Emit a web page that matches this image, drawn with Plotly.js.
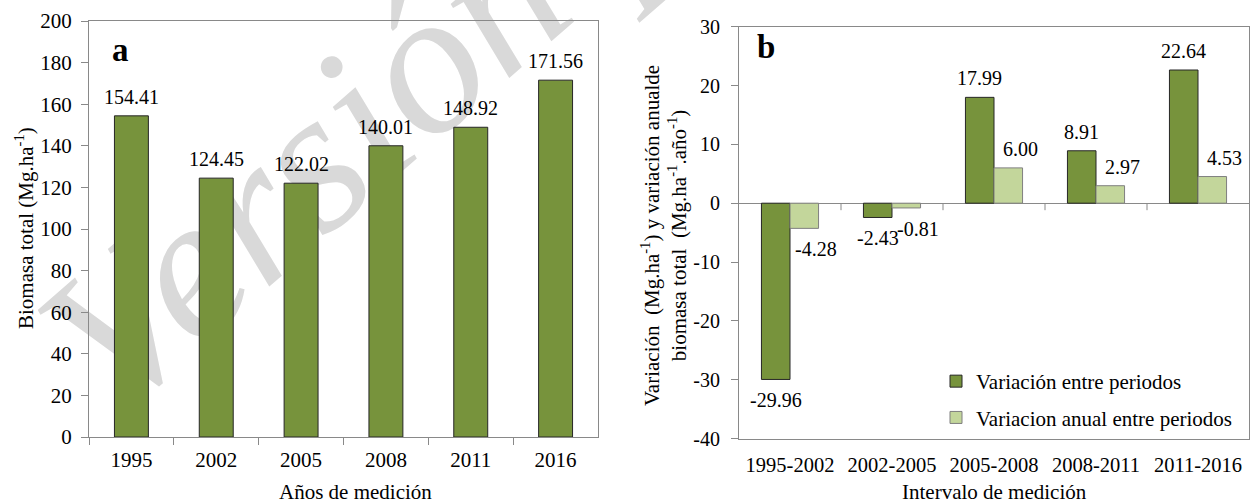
<!DOCTYPE html>
<html>
<head>
<meta charset="utf-8">
<script src="https://cdn.plot.ly/plotly-3.0.1.min.js"></script>
<style>
  html, body { margin: 0; padding: 0; background: #ffffff; }
  #wrap { position: relative; width: 1255px; height: 503px; overflow: hidden; }
  #wm { position: absolute; left: 0; top: 0; }
  #chart { position: absolute; left: 0; top: 0; width: 1255px; height: 503px; }
</style>
</head>
<body>
<div id="wrap">
  <svg id="wm" width="1255" height="503">
    <text x="117" y="419" font-family="Liberation Serif" font-style="italic" font-size="205" fill="#d9d9d9" transform="rotate(-41 117 419)">Versión preliminar</text>
  </svg>
  <div id="chart"></div>
</div>
<script>
// ---- data ----
const years = ['1995', '2002', '2005', '2008', '2011', '2016'];
const biomasaTotal = [154.41, 124.45, 122.02, 140.01, 148.92, 171.56];
const intervals = ['1995-2002', '2002-2005', '2005-2008', '2008-2011', '2011-2016'];
const variacionEntre = [-29.96, -2.43, 17.99, 8.91, 22.64];
const variacionAnual = [-4.28, -0.81, 6.00, 2.97, 4.53];
const seriesNames = ['Variación entre periodos', 'Variacion anual entre periodos'];
const yTicksA = [0, 20, 40, 60, 80, 100, 120, 140, 160, 180, 200];
const yTicksB = [-40, -30, -20, -10, 0, 10, 20, 30];

// ---- style ----
const FONT = 'Liberation Serif';
const AXC = '#898989';
const DARK = '#77933C';
const LIGHT = '#C3D69B';
const W = 1255, H = 503;
const px = v => v / W;
const py = v => (H - v) / H;
const BW = 0.28; // bar width of panel b (fraction of category)

const traces = [
  {
    type: 'bar', x: years, y: biomasaTotal, xaxis: 'x', yaxis: 'y',
    width: 0.4, showlegend: false,
    marker: { color: DARK, line: { color: '#262626', width: 1 } },
    hoverinfo: 'x+y'
  },
  {
    type: 'bar', x: intervals, y: variacionEntre, xaxis: 'x2', yaxis: 'y2',
    width: BW, offset: -BW, name: seriesNames[0], legendgroup: 'g1',
    marker: { color: DARK, line: { color: '#262626', width: 1 } }
  },
  {
    type: 'bar', x: intervals, y: variacionAnual, xaxis: 'x2', yaxis: 'y2',
    width: BW, offset: 0, name: seriesNames[1], legendgroup: 'g2',
    marker: { color: LIGHT, line: { color: '#7f7f7f', width: 1 } }
  }
];

// data labels (x given as category index)
const ann = [];
const labFont = { family: FONT, size: 20, color: '#000' };
function lab(ys, xref, yref, dx, xshift) {
  ys.forEach((v, i) => {
    ann.push({
      x: i + dx, y: v, xref: xref, yref: yref, text: v.toFixed(2), showarrow: false,
      yanchor: 'middle', xanchor: 'center', yshift: v >= 0 ? 19 : -21, xshift: xshift,
      font: labFont
    });
  });
}
lab(biomasaTotal, 'x', 'y', 0, 0);
lab(variacionEntre, 'x2', 'y2', -BW / 2, 0);
lab(variacionAnual, 'x2', 'y2', BW / 2, 12);

// panel letters
const letterFont = { family: FONT, size: 33, color: '#000' };
ann.push({ x: px(120), y: py(50), xref: 'paper', yref: 'paper', xanchor: 'center', yanchor: 'middle',
  text: '<b>a</b>', showarrow: false, font: letterFont });
ann.push({ x: px(766), y: py(47), xref: 'paper', yref: 'paper', xanchor: 'center', yanchor: 'middle',
  text: '<b>b</b>', showarrow: false, font: letterFont });

// axis titles
const titleFont = { family: FONT, size: 21, color: '#000' };
ann.push({ x: px(24), y: py(228), xref: 'paper', yref: 'paper', textangle: -90, showarrow: false,
  xanchor: 'center', yanchor: 'middle',
  text: 'Biomasa total (Mg.ha<sup>-1</sup>)', font: titleFont });
ann.push({ x: px(664), y: py(235), xref: 'paper', yref: 'paper', textangle: -90, showarrow: false,
  xanchor: 'center', yanchor: 'middle',
  text: 'Variación  (Mg.ha<sup>-1</sup>) y variación anualde<br>biomasa total  (Mg.ha<sup>-1</sup>.año<sup>-1</sup>)',
  font: titleFont });
ann.push({ x: px(355), y: py(492), xref: 'paper', yref: 'paper', showarrow: false,
  xanchor: 'center', yanchor: 'middle', text: 'Años de medición', font: titleFont });
ann.push({ x: px(994), y: py(492), xref: 'paper', yref: 'paper', showarrow: false,
  xanchor: 'center', yanchor: 'middle', text: 'Intervalo de medición', font: titleFont });

// tick marks on the zero line of panel b, at category boundaries
const shapes = intervals.slice(1).map((_, i) => ({
  type: 'line', xref: 'x2', yref: 'y2', x0: i + 0.5, x1: i + 0.5,
  ysizemode: 'pixel', yanchor: 0, y0: 0, y1: -7,
  line: { color: AXC, width: 1 }
}));

const layout = {
  width: W, height: H,
  margin: { l: 0, r: 0, t: 0, b: 0 },
  paper_bgcolor: 'rgba(0,0,0,0)', plot_bgcolor: 'rgba(0,0,0,0)',
  font: { family: FONT, color: '#000' },
  barmode: 'overlay',
  showlegend: true,
  legend: {
    x: px(936), y: py(361), xanchor: 'left', yanchor: 'top',
    bgcolor: 'rgba(0,0,0,0)', font: { family: FONT, size: 21, color: '#000' },
    tracegroupgap: 6, itemwidth: 30
  },
  xaxis: {
    domain: [px(89), px(598)], anchor: 'y', type: 'category',
    range: [-0.5, years.length - 0.5],
    showline: true, linecolor: AXC, linewidth: 1, mirror: true,
    ticks: 'outside', tickson: 'boundaries', ticklen: 7, tickcolor: AXC,
    tickfont: { family: FONT, size: 21, color: '#000' }, tickangle: 0,
    ticklabelstandoff: 4, showgrid: false
  },
  yaxis: {
    domain: [py(437), py(21)], anchor: 'x', range: [0, 200],
    tickmode: 'array', tickvals: yTicksA, ticktext: yTicksA.map(String),
    showline: true, linecolor: AXC, linewidth: 1, mirror: true,
    ticks: 'outside', ticklen: 7, tickcolor: AXC,
    tickfont: { family: FONT, size: 21, color: '#000' },
    ticklabelstandoff: 5, showgrid: false, zeroline: false
  },
  xaxis2: {
    domain: [px(739), px(1249)], anchor: 'y2', type: 'category',
    range: [-0.5, intervals.length - 0.5],
    showline: true, linecolor: AXC, linewidth: 1, mirror: true,
    ticks: '', tickfont: { family: FONT, size: 20.5, color: '#000' }, tickangle: 0,
    ticklabelstandoff: 8, showgrid: false
  },
  yaxis2: {
    domain: [py(438.5), py(26.7)], anchor: 'x2', range: [-40, 30],
    tickmode: 'array', tickvals: yTicksB, ticktext: yTicksB.map(String),
    showline: true, linecolor: AXC, linewidth: 1, mirror: true,
    ticks: 'outside', ticklen: 7, tickcolor: AXC,
    tickfont: { family: FONT, size: 20, color: '#000' },
    ticklabelstandoff: 7, showgrid: false,
    zeroline: true, zerolinecolor: AXC, zerolinewidth: 1
  },
  annotations: ann,
  shapes: shapes
};

Plotly.newPlot('chart', traces, layout, { displayModeBar: false, staticPlot: true });
</script>
</body>
</html>
